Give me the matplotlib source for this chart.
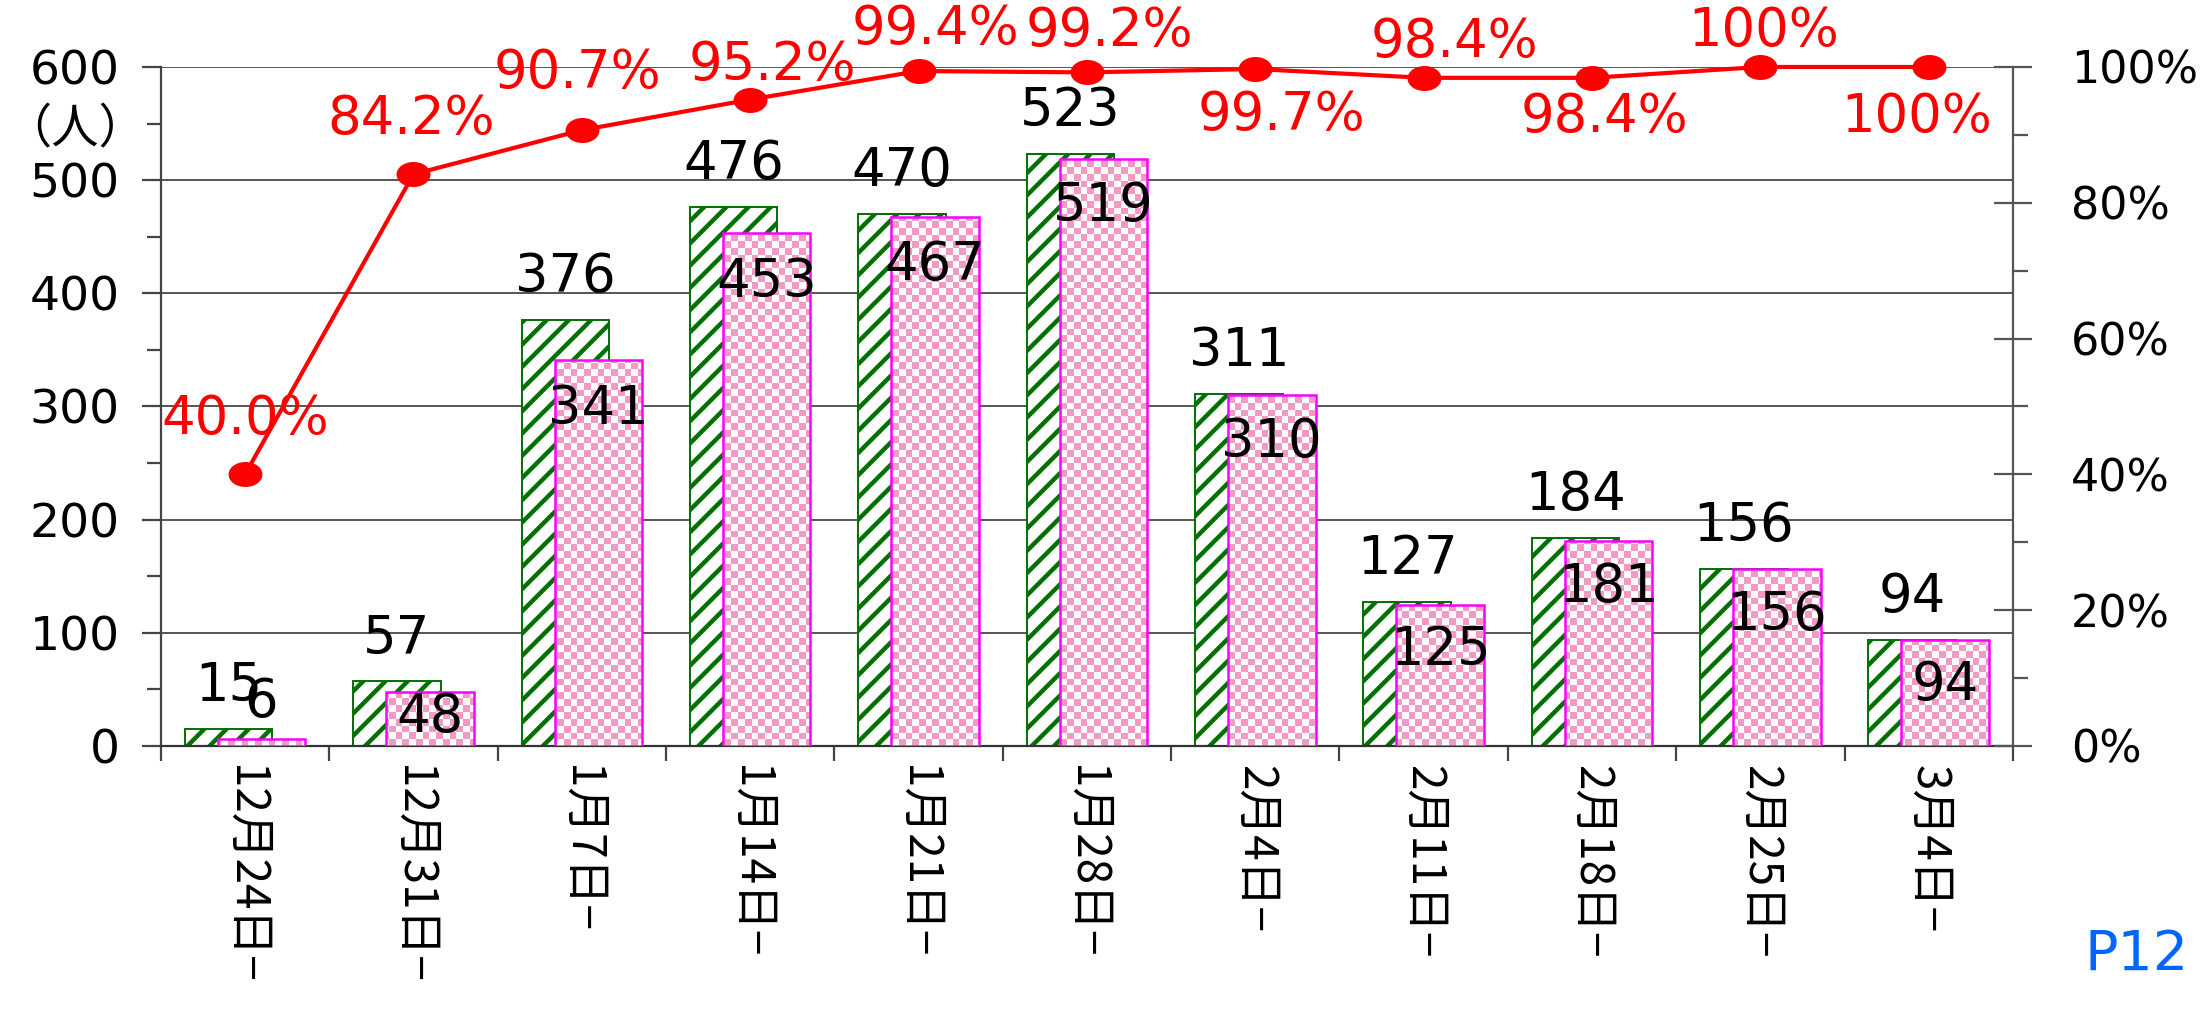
import numpy as np
import matplotlib.pyplot as plt
from matplotlib.path import Path
from matplotlib.transforms import Affine2D

plt.rcParams['font.family'] = ['DejaVu Sans', 'Noto Sans CJK JP']
plt.rcParams['hatch.linewidth'] = 1.6

weeks = ['12月24日−', '12月31日−', '1月7日−', '1月14日−', '1月21日−', '1月28日−',
         '2月4日−', '2月11日−', '2月18日−', '2月25日−', '3月4日−']
green_vals = [15, 57, 376, 476, 470, 523, 311, 127, 184, 156, 94]
pink_vals = [6, 48, 341, 453, 467, 519, 310, 125, 181, 156, 94]
rate = [40.0, 84.2, 90.7, 95.2, 99.4, 99.2, 99.7, 98.4, 98.4, 100, 100]
rate_labels = ['40.0%', '84.2%', '90.7%', '95.2%', '99.4%', '99.2%',
               '99.7%', '98.4%', '98.4%', '100%', '100%']

# label offsets in points (layout only)
rate_off = [(0, 20), (-1, 20), (-1.5, 20.5), (8, 12.5), (6, 15), (8, 15),
            (9.5, -16.5), (11, 13), (4.5, -14), (1, 13), (-4.5, -18)]
pink_off = [13.5, -9, -17.5, -17.5, -17, -17, -17, -16.5, -16.5, -16.5, -16.5]

fig = plt.figure(figsize=(11.02, 5.05), dpi=200)
ax = fig.add_axes([0.073, 0.2614, 0.8403, 0.6723])

x = np.arange(len(weeks))
w = 0.52
d = 0.098

gb = ax.bar(x - d, green_vals, w, color='white', edgecolor='#007000',
            hatch='///', lw=0.7, zorder=2)
pb = ax.bar(x + d, pink_vals, w, color='none', edgecolor='#FF00FF',
            lw=0.9, zorder=4)

# checkerboard fill for the pink bars
nx, ny = 276, 101
ii, jj = np.indices((ny, nx))
pink_rgb = np.array([0.95, 0.60, 0.78])
chk = np.where(((ii + jj) % 2 == 0)[..., None], pink_rgb, np.ones(3))
for p in pb:
    im = ax.imshow(chk, extent=(-0.5, 10.5, 0, 600), aspect='auto',
                   interpolation='nearest', zorder=3)
    im.set_clip_path(p)

ax.set_xlim(-0.5, 10.5)
ax.set_ylim(0, 600)

for xi, v in zip(x, green_vals):
    ax.annotate(str(v), (xi - d, v), xytext=(0, 15.5), textcoords='offset points',
                ha='center', va='center', fontsize=19, zorder=6)
for xi, v, o in zip(x, pink_vals, pink_off):
    ax.annotate(str(v), (xi + d, v), xytext=(0, o), textcoords='offset points',
                ha='center', va='center', fontsize=19, zorder=6)

ax.set_yticks(range(0, 601, 100))
ax.set_yticks(range(50, 600, 100), minor=True)
ax.yaxis.grid(True, color='#555555', lw=0.7)
ax.set_axisbelow(True)
ax.tick_params(axis='y', which='major', direction='out', length=6.8, width=0.8,
               color='#444444', labelsize=17, pad=8)
ax.tick_params(axis='y', which='minor', direction='out', length=5, width=0.8,
               color='#444444')

ax.set_xticks(x, weeks, rotation=-90, fontsize=16.5, fontfamily=['Noto Sans CJK JP'])
ax.set_xticks(np.arange(-0.5, 11, 1), minor=True)
ax.tick_params(axis='x', which='major', length=0, pad=7)
ax.tick_params(axis='x', which='minor', direction='out', length=5.4, width=0.8,
               color='#444444')

ax.spines['top'].set_visible(False)
ax.spines['right'].set_visible(False)
ax.spines['left'].set_color('#444444')
ax.spines['bottom'].set_color('#333333')

ax2 = ax.twinx()
ax2.set_ylim(0, 1)
ax2.set_yticks(np.arange(0, 1.01, 0.2), [f'{v}%' for v in range(0, 101, 20)])
ax2.set_yticks(np.arange(0.1, 1.0, 0.2), minor=True)
ax2.tick_params(axis='y', which='major', direction='inout', length=14, width=0.8,
                color='#555555', labelsize=16, pad=14)
ax2.tick_params(axis='y', which='minor', direction='out', length=5.4, width=0.8,
                color='#555555')
for s in ['top', 'left', 'bottom']:
    ax2.spines[s].set_visible(False)
ax2.spines['right'].set_color('#555555')

ellipse = Affine2D().scale(1.4, 1.0).transform_path(Path.unit_circle())
ax2.plot(x, np.array(rate) / 100, color='#FF0000', lw=1.5, marker=ellipse,
         ms=11.2, clip_on=False, zorder=5)
for xi, r, lbl, o in zip(x, rate, rate_labels, rate_off):
    ax2.annotate(lbl, (xi, r / 100), xytext=o, textcoords='offset points',
                 ha='center', va='center', fontsize=19, color='#FF0000',
                 annotation_clip=False, zorder=3)

fig.text(0.034, 0.872, '（人）', ha='center', va='center', fontsize=17,
         fontfamily=['Noto Sans CJK JP'])
fig.text(0.9696, 0.0545, 'P12', ha='center', va='center', fontsize=20,
         color='#0066FF')

fig.savefig('out.png', dpi=200)
